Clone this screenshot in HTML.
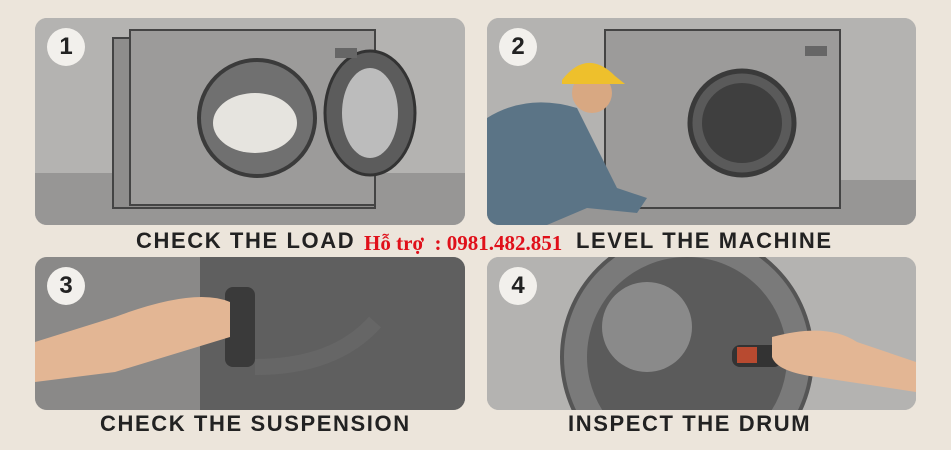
<!DOCTYPE html>
<html><head><meta charset="utf-8"><style>
html,body{margin:0;padding:0;width:951px;height:450px;overflow:hidden}
body{background:#ece5db;position:relative;font-family:"Liberation Sans",sans-serif}
svg{display:block}
.p{position:absolute;border-radius:12px;overflow:hidden;background:#a9a8a6}
.n{position:absolute;left:12px;top:10px;width:38px;height:38px;border-radius:50%;background:#f2f0ec;font-weight:bold;font-size:24px;text-align:center;line-height:38px;color:#222}
.l{position:absolute;font-weight:bold;font-size:22px;line-height:24px;color:#222;letter-spacing:1.6px;white-space:nowrap}
</style></head><body>
<div class="p" style="left:35px;top:18px;width:430px;height:207px">
<svg width="430" height="207"><rect width="430" height="207" fill="#b4b3b1"/><rect y="155" width="430" height="52" fill="#979695"/>
<rect x="78" y="20" width="262" height="170" fill="#8e8d8c" stroke="#444" stroke-width="2"/><rect x="95" y="12" width="245" height="175" fill="#9c9b9a" stroke="#444" stroke-width="2"/>
<circle cx="222" cy="100" r="58" fill="#707070" stroke="#3b3b3b" stroke-width="4"/><ellipse cx="220" cy="105" rx="42" ry="30" fill="#e6e4df"/>
<ellipse cx="335" cy="95" rx="45" ry="62" fill="#5c5c5c" stroke="#333" stroke-width="3"/><ellipse cx="335" cy="95" rx="28" ry="45" fill="#bcbcbc"/>
<rect x="300" y="30" width="22" height="10" fill="#666"/></svg>
<div class="n">1</div></div>
<div class="p" style="left:487px;top:18px;width:429px;height:207px">
<svg width="429" height="207"><rect width="429" height="207" fill="#b4b3b1"/><rect y="162" width="429" height="45" fill="#979695"/>
<rect x="118" y="12" width="235" height="178" fill="#9c9b9a" stroke="#444" stroke-width="2"/>
<circle cx="255" cy="105" r="52" fill="#5a5a5a" stroke="#3a3a3a" stroke-width="5"/><circle cx="255" cy="105" r="40" fill="#3f3f3f"/>
<rect x="318" y="28" width="22" height="10" fill="#666"/>
<path d="M0 100 Q40 75 90 90 L130 170 L160 180 L150 195 L100 190 L60 207 L0 207Z" fill="#5b7486"/>
<circle cx="105" cy="75" r="20" fill="#d8a882"/><path d="M75 62 Q100 30 128 58 L138 66 L75 66Z" fill="#eec02c"/></svg>
<div class="n">2</div></div>
<div class="p" style="left:35px;top:257px;width:430px;height:153px">
<svg width="430" height="153"><rect width="430" height="153" fill="#8a8988"/><rect x="165" y="0" width="265" height="153" fill="#5f5f5f"/>
<rect x="190" y="30" width="30" height="80" fill="#3a3a3a" rx="8"/>
<path d="M220 110 Q300 110 340 65" stroke="#666" stroke-width="16" fill="none"/>
<path d="M0 85 L80 60 Q160 30 195 45 L195 80 L80 115 L0 125Z" fill="#e3b694"/></svg>
<div class="n">3</div></div>
<div class="p" style="left:487px;top:257px;width:429px;height:153px">
<svg width="429" height="153"><rect width="429" height="153" fill="#b4b3b1"/>
<circle cx="200" cy="100" r="125" fill="#7a7a7a" stroke="#555" stroke-width="4"/><circle cx="200" cy="100" r="100" fill="#5b5b5b"/><circle cx="160" cy="70" r="45" fill="#8a8a8a"/>
<rect x="245" y="88" width="50" height="22" rx="8" fill="#333"/><rect x="250" y="90" width="20" height="16" fill="#b84a30"/>
<path d="M285 80 Q340 65 370 85 L429 105 L429 135 L330 120 Q290 115 285 100Z" fill="#e3b694"/></svg>
<div class="n">4</div></div>
<div class="l" style="left:136px;top:229px">CHECK THE LOAD</div>
<div class="l" style="left:576px;top:229px">LEVEL THE MACHINE</div>
<div class="l" style="left:100px;top:412px">CHECK THE SUSPENSION</div>
<div class="l" style="left:568px;top:412px">INSPECT THE DRUM</div>
<div style="position:absolute;left:364px;top:231px;font-family:'Liberation Serif',serif;font-weight:bold;font-size:21px;line-height:24px;color:#e0101a;white-space:nowrap">Hỗ trợ &nbsp;: 0981.482.851</div>
</body></html>
